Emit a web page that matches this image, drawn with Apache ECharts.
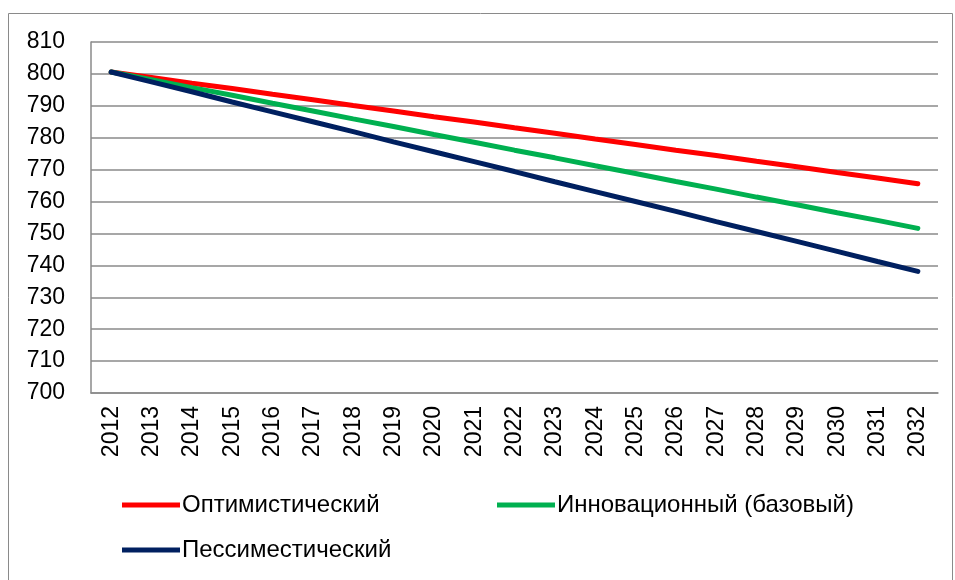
<!DOCTYPE html>
<html>
<head>
<meta charset="utf-8">
<script src="https://cdn.jsdelivr.net/npm/echarts@6/dist/echarts.min.js"></script>
<style>
  html, body { margin: 0; padding: 0; background: #fff; }
  #chart { width: 955px; height: 580px; }
</style>
</head>
<body>
<div id="chart"></div>
<script>
// годы прогноза
var years = ['2012','2013','2014','2015','2016','2017','2018','2019','2020','2021','2022',
             '2023','2024','2025','2026','2027','2028','2029','2030','2031','2032'];

var seriesNames = ['Оптимистический', 'Инновационный (базовый)', 'Пессиместический'];

var optimistic = [800.6, 798.9, 797.1, 795.4, 793.6, 791.9, 790.1, 788.4, 786.6, 784.9, 783.1,
                  781.4, 779.6, 777.9, 776.1, 774.4, 772.6, 770.9, 769.1, 767.4, 765.6];
var innovative = [800.6, 798.2, 795.7, 793.3, 790.8, 788.4, 785.9, 783.5, 781.0, 778.6, 776.1,
                  773.7, 771.2, 768.8, 766.3, 763.9, 761.4, 759.0, 756.5, 754.1, 751.6];
var pessimistic = [800.6, 797.5, 794.4, 791.2, 788.1, 785.0, 781.9, 778.7, 775.6, 772.5, 769.4,
                   766.2, 763.1, 760.0, 756.9, 753.7, 750.6, 747.5, 744.4, 741.2, 738.1];

var colors = ['#ff0000', '#00b050', '#002060'];
var font = '"Liberation Sans", Arial, sans-serif';

var theChart = echarts.init(document.getElementById('chart'));

function makeLegend(name, left, top){
	return {
		data: [name],
		left: left,
		top: top,
		icon: 'rect',
		itemWidth: 58,
		itemHeight: 5,
		padding: 0,
		selectedMode: false,
		textStyle: { fontFamily: font, fontSize: 24, color: '#000', padding: [0, 0, 0, -3] }
	};
}

var series = [];
var datas = [optimistic, innovative, pessimistic];
for(var i = 0; i < datas.length; i++){
	series.push({
		name: seriesNames[i],
		type: 'line',
		data: datas[i],
		symbol: 'none',
		lineStyle: { width: 5, color: colors[i], cap: 'round' },
		itemStyle: { color: colors[i] }
	});
}

var option = {
	animation: false,
	color: colors,
	graphic: [{
		type: 'rect',
		shape: { x: 8.5, y: 13.5, width: 944, height: 600 },
		style: { fill: 'none', stroke: '#8a8a8a', lineWidth: 1 },
		silent: true
	}],
	grid: { left: 91, right: 17, top: 42, bottom: 187 },
	legend: [
		makeLegend(seriesNames[0], 122, 493),
		makeLegend(seriesNames[1], 497, 493),
		makeLegend(seriesNames[2], 122, 538)
	],
	xAxis: {
		type: 'category',
		data: years,
		boundaryGap: true,
		axisLine: { lineStyle: { color: '#8a8a8a', width: 1.5 } },
		axisTick: { show: false },
		axisLabel: { rotate: 90, interval: 0, margin: 13, fontFamily: font, fontSize: 23, color: '#000' }
	},
	yAxis: {
		type: 'value',
		min: 700,
		max: 810,
		interval: 10,
		axisLine: { show: true, lineStyle: { color: '#8a8a8a', width: 1.5 } },
		axisTick: { show: false },
		axisLabel: { margin: 26, fontFamily: font, fontSize: 23, color: '#000' },
		splitLine: { lineStyle: { color: '#8a8a8a', width: 1.5 } }
	},
	series: series
};

theChart.setOption(option);
</script>
</body>
</html>
